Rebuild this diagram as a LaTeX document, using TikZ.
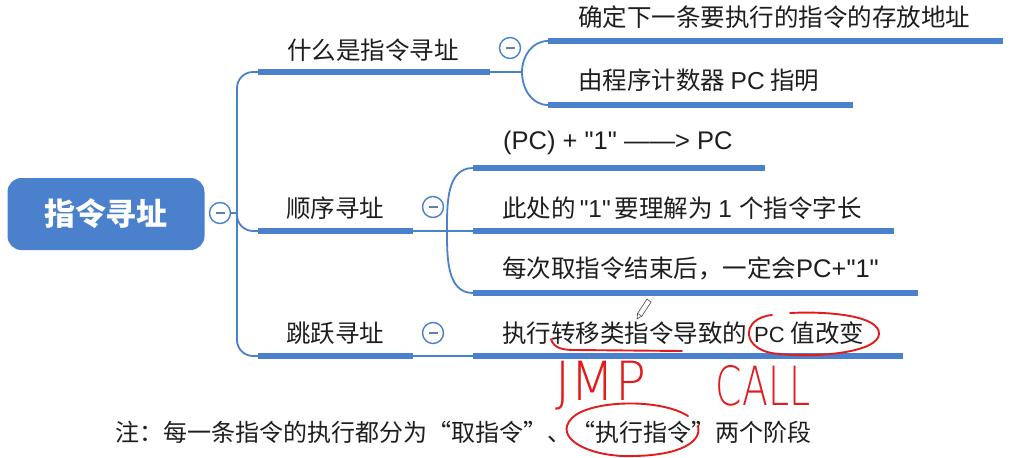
\documentclass[tikz,border=0pt]{standalone}
\usepackage{fontspec}
\newfontfamily\cjk{Noto Sans CJK SC}
\newfontfamily\latf{Liberation Sans}
\newfontfamily\hand{DejaVu Sans ExtraLight}
\definecolor{mblue}{RGB}{74,128,204}
\definecolor{hred}{RGB}{226,28,28}
\definecolor{ink}{RGB}{30,30,30}
\tikzset{
  linkline/.style={draw=mblue, line width=1.8pt},
  barline/.style={draw=mblue, line width=5.5pt},
  collapse/.style={circle, draw=mblue, fill=white, line width=1.4pt, minimum size=21pt, inner sep=0pt,
    path picture={\draw[mblue!60!gray, line width=1.3pt] (path picture bounding box.center) ++(-4.5pt,0) -- ++(9pt,0);}},
  rootbox/.style={rounded corners=14pt, fill=mblue, minimum width=197pt, minimum height=72pt, inner sep=0pt,
    text=white, font=\cjk\bfseries\fontsize{31}{31}\selectfont},
  lvlone/.style={text=ink, inner sep=0pt, font=\cjk\fontsize{24.5}{25}\selectfont},
  leaf/.style={text=ink, inner sep=0pt, anchor=west, font=\cjk\fontsize{24.5}{25}\selectfont},
  redpen/.style={draw=hred, line width=1.9pt, line cap=round, line join=round},
  handtext/.style={text=hred, inner sep=0pt, font=\hand\fontsize{54}{54}\selectfont},
  notetext/.style={text=ink, inner sep=0pt, anchor=west, font=\cjk\fontsize{24}{24}\selectfont}
}
\begin{document}
\begin{tikzpicture}[x=1pt,y=-1pt]
\fill[white] (0,0) rectangle (1013,458);
\useasboundingbox (0,0) rectangle (1013,458);

% root
\node[rootbox] (root) at (106,214) {指令寻址};
\node[collapse] (c0) at (220,213) {};
\coordinate (tj) at (237,213);
\draw[linkline] (c0.east) -- (tj);

% trunk
\coordinate (b1s) at (258,72);
\coordinate (b1e) at (490,72);
\coordinate (b2s) at (258,231);
\coordinate (b2e) at (413,231);
\coordinate (b3s) at (258,356);
\coordinate (b3e) at (413,356);
\coordinate (tt) at (237,72);
\coordinate (tb) at (237,356);
\coordinate (tm) at (237,200);
\draw[linkline, rounded corners=16pt] (b1s) -- (tt) -- (tb) -- (b3s);
\draw[linkline, rounded corners=16pt] (tm) |- (b2s);

% branch 1
\node[lvlone] (b1) at (373,50) {什么是指令寻址};
\draw[barline] (b1s) -- (b1e);
\node[collapse] (c1) at (510,48) {};
\coordinate (f1) at (522,72);
\draw[linkline] (b1e) -- (f1);
\coordinate (l11s) at (548,41);
\coordinate (l11e) at (1003,41);
\coordinate (l12s) at (548,105);
\coordinate (l12e) at (853,105);
\draw[linkline] (f1) to[out=90,in=180] (l11s);
\draw[linkline] (f1) to[out=-90,in=180] (l12s);
\draw[barline] (l11s) -- (l11e);
\draw[barline] (l12s) -- (l12e);
\node[leaf] (t11) at (578,17) {确定下一条要执行的指令的存放地址};
\node[leaf] (t12) at (578,80) {由程序计数器 {\latf PC} 指明};

% branch 2
\node[lvlone] (b2) at (335,208) {顺序寻址};
\draw[barline] (b2s) -- (b2e);
\node[collapse] (c2) at (433,207) {};
\coordinate (f2) at (447,231);
\draw[linkline] (b2e) -- (f2);
\coordinate (l21s) at (473,168);
\coordinate (l21e) at (765,168);
\coordinate (l22s) at (473,231);
\coordinate (l22e) at (894,231);
\coordinate (l23s) at (473,293);
\coordinate (l23e) at (918,293);
\draw[linkline] (f2) to[out=90,in=180] (l21s);
\draw[linkline] (f2) -- (l22s);
\draw[linkline] (f2) to[out=-90,in=180] (l23s);
\draw[barline] (l21s) -- (l21e);
\draw[barline] (l22s) -- (l22e);
\draw[barline] (l23s) -- (l23e);
\node[leaf] (t21) at (503,143) {\latf\fontsize{25.5}{26}\selectfont (PC) + "1" ——> PC};
\node[leaf] (t22) at (502,208) {此处的{\latf\,"1"\,}要理解为 {\latf 1\,}\kern3pt 个指令字长};
\node[leaf] (t23) at (502,268) {每次取指令结束后，一定会{\latf\fontsize{25.5}{26}\selectfont PC+"1"}};

% branch 3
\node[lvlone] (b3) at (335,333) {跳跃寻址};
\draw[barline] (b3s) -- (b3e);
\node[collapse] (c3) at (433,333) {};
\coordinate (l31s) at (473,356);
\coordinate (l31e) at (903,356);
\draw[linkline] (b3e) -- (l31s);
\draw[barline] (l31s) -- (l31e);
\node[leaf] (t31) at (502,333) {执行转移类指令导致的{\latf\fontsize{22}{24}\selectfont\kern7pt PC }值改变};

% pencil cursor
\draw[gray!70!black, line width=0.7pt, line join=round, fill=white]
  (637,319) -- (637.6,313.4) -- (646.9,299.2) -- (651.1,302.0) -- (641.8,316.2) -- cycle;
\draw[gray!70!black, line width=0.6pt] (637.6,313.4) -- (641.8,316.2);

% red annotations
\draw[redpen] (551,339) to[out=-75,in=180] (575,350) -- (682,351);
\draw[redpen] (772,315) .. controls (740,318) and (740,352) .. (780,354)
  .. controls (820,358) and (878,352) .. (879,334)
  .. controls (880,316) and (830,311) .. (790,313);
\node[handtext, xscale=0.95] (jmp) at (601,386) {JMP};
\node[handtext, xscale=0.7] (call) at (763,386) {CALL};

% note
\node[notetext] (note) at (115,432) {注：每一条指令的执行都分为“取指令”、“执行指令”两个阶段};
\draw[redpen] (688,416) .. controls (660,398) and (590,400) .. (572,418)
  .. controls (552,438) and (590,458) .. (635,456)
  .. controls (680,455) and (702,442) .. (698,426);
\end{tikzpicture}
\end{document}
